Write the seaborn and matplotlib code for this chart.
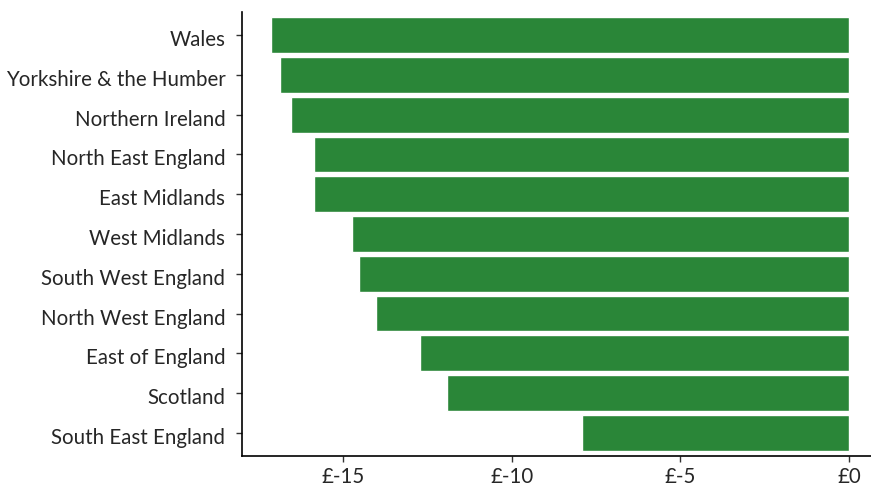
import matplotlib
matplotlib.use("Agg")
import matplotlib.pyplot as plt
import matplotlib.transforms as mtransforms
import seaborn as sns
import pandas as pd

# Values (£)
regions = ["Wales", "Yorkshire & the Humber", "Northern Ireland", "North East England",
           "East Midlands", "West Midlands", "South West England", "North West England",
           "East of England", "Scotland", "South East England"]
change = [-17.15, -16.88, -16.56, -15.85, -15.85, -14.75, -14.54, -14.04, -12.73, -11.93, -7.92]
ticks = [-15, -10, -5, 0]
tick_labels = ["£-15", "£-10", "£-5", "£0"]

df = pd.DataFrame({"region": regions, "change": change})

sns.set_style("ticks")
plt.rcParams["font.family"] = ["Lato", "DejaVu Sans"]

fig = plt.figure(figsize=(8.71, 4.88), dpi=100)
ax = fig.add_axes([0.2778, 0.0656, 0.7222, 0.9098])

sns.barplot(data=df, x="change", y="region", orient="h", color="#2a8638",
            saturation=1, width=0.9, ax=ax)

ax.set_xlim(-18.0, 0.65)
ax.set_ylim(10.58, -0.58)
ax.set_xticks(ticks)
ax.set_xticklabels(tick_labels)
ax.set_xlabel("")
ax.set_ylabel("")
ax.tick_params(axis="both", labelsize=14.8, color="#333333", length=4, width=1)
ax.tick_params(axis="y", pad=8)
ax.tick_params(axis="x", pad=4)
sns.despine(ax=ax)
for s in ["left", "bottom"]:
    ax.spines[s].set_linewidth(1.2)
    ax.spines[s].set_color("black")

# nudge the region labels down a touch, like the reference
offset = mtransforms.ScaledTranslation(0, -3 / 100, fig.dpi_scale_trans)
for lbl in ax.get_yticklabels():
    lbl.set_transform(lbl.get_transform() + offset)

fig.savefig("out.png", dpi=100)
